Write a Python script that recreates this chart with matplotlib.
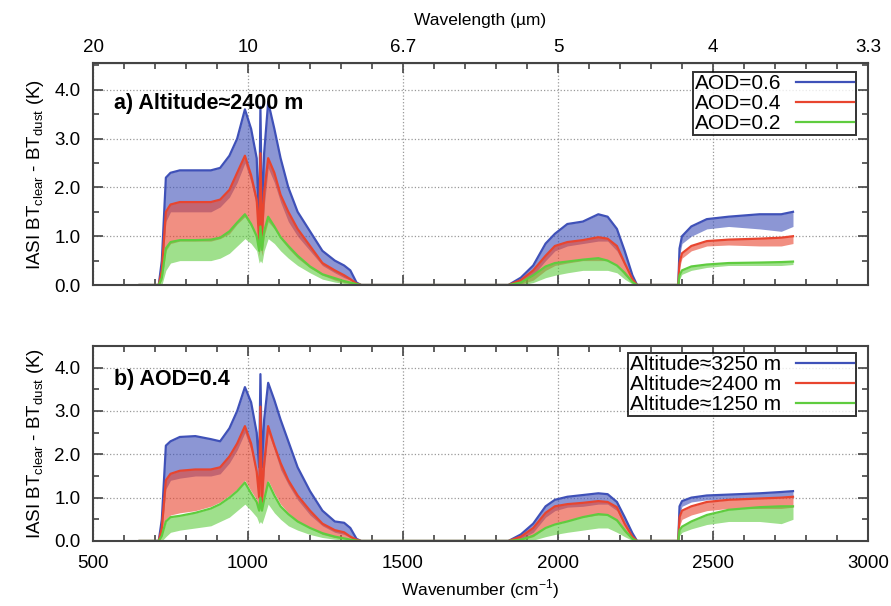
import matplotlib
matplotlib.use("Agg")
import matplotlib.pyplot as plt
from matplotlib.ticker import MultipleLocator, FixedLocator
import numpy as np

plt.rcParams['font.family'] = ['Liberation Sans', 'DejaVu Sans']

# wavenumber grid (cm-1) shared by all curves
wn = [650, 712, 722, 735, 750, 780, 830, 880, 910, 940,
      965, 990, 1010, 1028, 1036, 1040, 1045, 1052, 1065, 1085,
      1105, 1130, 1160, 1200, 1240, 1280, 1310, 1330, 1350, 1365,
      1840, 1880, 1920, 1960, 1990, 2030, 2080, 2130, 2160, 2190,
      2215, 2240, 2255, 2388, 2392, 2400, 2430, 2480, 2550, 2650,
      2720, 2758]

# panel a: altitude 2400 m, three AOD values (top of band / bottom of spikes)
aod06_top = [0, 0, 0.5, 2.2, 2.3, 2.35, 2.35, 2.35, 2.4, 2.65,
             3.0, 3.6, 3.2, 2.6, 1.2, 3.65, 1.3, 2.7, 3.75, 3.2,
             2.6, 2.0, 1.5, 1.1, 0.7, 0.5, 0.4, 0.3, 0.05, 0,
             0, 0.15, 0.4, 0.85, 1.05, 1.25, 1.3, 1.45, 1.4, 1.15,
             0.7, 0.2, 0, 0, 0.75, 1.0, 1.2, 1.35, 1.4, 1.45,
             1.45, 1.5]
aod06_low = [0, 0, 0.2, 1.3, 1.5, 1.5, 1.5, 1.5, 1.6, 1.8,
             2.1, 2.5, 2.1, 1.6, 0.9, 1.2, 0.9, 1.6, 2.4, 2.1,
             1.7, 1.3, 1.0, 0.7, 0.4, 0.25, 0.15, 0.1, 0, 0,
             0, 0.05, 0.2, 0.5, 0.7, 0.8, 0.85, 0.9, 0.9, 0.7,
             0.4, 0.1, 0, 0, 0.6, 0.85, 1.0, 1.15, 1.2, 1.15,
             1.1, 1.2]
aod04_top = [0, 0, 0.3, 1.5, 1.65, 1.7, 1.7, 1.7, 1.75, 1.95,
             2.3, 2.65, 2.25, 1.75, 0.9, 2.7, 0.95, 1.9, 2.6, 2.3,
             1.85, 1.5, 1.15, 0.8, 0.45, 0.3, 0.2, 0.12, 0.03, 0,
             0, 0.1, 0.3, 0.6, 0.8, 0.88, 0.92, 0.98, 0.95, 0.8,
             0.45, 0.12, 0, 0, 0.45, 0.65, 0.8, 0.9, 0.93, 0.95,
             0.97, 1.0]
aod04_low = [0, 0, 0.1, 0.7, 0.85, 0.9, 0.9, 0.9, 0.95, 1.05,
             1.25, 1.4, 1.2, 1.0, 0.6, 0.8, 0.6, 1.0, 1.3, 1.15,
             0.95, 0.75, 0.55, 0.35, 0.2, 0.1, 0.05, 0.03, 0, 0,
             0, 0.02, 0.1, 0.3, 0.4, 0.45, 0.5, 0.5, 0.5, 0.4,
             0.2, 0.05, 0, 0, 0.35, 0.55, 0.7, 0.8, 0.82, 0.8,
             0.8, 0.85]
aod02_top = [0, 0, 0.15, 0.75, 0.88, 0.92, 0.92, 0.93, 0.97, 1.1,
             1.28, 1.45, 1.25, 1.0, 0.7, 1.2, 0.72, 1.1, 1.4, 1.2,
             0.98, 0.8, 0.6, 0.38, 0.22, 0.14, 0.08, 0.05, 0.02, 0,
             0, 0.05, 0.2, 0.38, 0.45, 0.48, 0.52, 0.55, 0.5, 0.4,
             0.25, 0.06, 0, 0, 0.2, 0.3, 0.38, 0.42, 0.45, 0.46,
             0.47, 0.48]
aod02_low = [0, 0, 0, 0.3, 0.45, 0.5, 0.5, 0.5, 0.55, 0.65,
             0.8, 0.95, 0.85, 0.7, 0.45, 0.5, 0.45, 0.7, 0.95, 0.85,
             0.7, 0.55, 0.4, 0.25, 0.12, 0.06, 0.03, 0.02, 0, 0,
             0, 0, 0.05, 0.15, 0.2, 0.25, 0.3, 0.3, 0.3, 0.25,
             0.12, 0.02, 0, 0, 0.12, 0.22, 0.3, 0.36, 0.4, 0.4,
             0.4, 0.42]

# panel b: AOD 0.4, three altitudes
alt3250_top = [0, 0, 0.5, 2.2, 2.3, 2.4, 2.42, 2.35, 2.3, 2.6,
               3.0, 3.55, 3.2, 2.5, 1.7, 3.85, 1.7, 2.8, 3.65, 3.25,
               2.8, 2.3, 1.7, 1.15, 0.7, 0.45, 0.42, 0.3, 0.05, 0,
               0, 0.15, 0.4, 0.8, 0.95, 1.02, 1.06, 1.1, 1.08, 0.9,
               0.55, 0.18, 0, 0, 0.8, 0.92, 1.0, 1.05, 1.07, 1.1,
               1.13, 1.15]
alt3250_low = [0, 0, 0.2, 1.2, 1.4, 1.45, 1.5, 1.5, 1.55, 1.8,
               2.1, 2.5, 2.1, 1.5, 0.9, 1.5, 0.9, 1.6, 2.5, 2.1,
               1.65, 1.3, 0.95, 0.6, 0.35, 0.2, 0.15, 0.08, 0, 0,
               0, 0.05, 0.2, 0.55, 0.7, 0.78, 0.8, 0.85, 0.85, 0.7,
               0.35, 0.08, 0, 0, 0.6, 0.8, 0.9, 0.95, 0.97, 0.98,
               1.0, 1.0]
alt2400_top = [0, 0, 0.3, 1.4, 1.55, 1.62, 1.65, 1.65, 1.7, 1.95,
               2.25, 2.65, 2.25, 1.6, 1.0, 3.1, 0.9, 1.8, 2.65, 2.2,
               1.8, 1.4, 1.05, 0.7, 0.4, 0.25, 0.2, 0.1, 0.03, 0,
               0, 0.1, 0.3, 0.65, 0.8, 0.85, 0.88, 0.92, 0.9, 0.78,
               0.4, 0.1, 0, 0, 0.55, 0.7, 0.8, 0.9, 0.95, 0.98,
               1.0, 1.02]
alt2400_low = [0, 0, 0.1, 0.5, 0.6, 0.65, 0.7, 0.8, 0.9, 1.05,
               1.2, 1.4, 1.15, 0.95, 0.7, 0.8, 0.7, 0.95, 1.4, 1.1,
               0.85, 0.65, 0.45, 0.3, 0.15, 0.08, 0.05, 0.02, 0, 0,
               0, 0.02, 0.1, 0.3, 0.4, 0.45, 0.55, 0.6, 0.6, 0.45,
               0.2, 0.03, 0, 0, 0.35, 0.5, 0.6, 0.7, 0.75, 0.75,
               0.75, 0.78]
alt1250_top = [0, 0, 0.12, 0.45, 0.55, 0.58, 0.65, 0.75, 0.85, 1.0,
               1.15, 1.35, 1.1, 0.9, 0.7, 1.0, 0.7, 0.95, 1.35, 1.05,
               0.8, 0.62, 0.45, 0.3, 0.18, 0.1, 0.06, 0.03, 0.01, 0,
               0, 0.03, 0.12, 0.3, 0.38, 0.45, 0.55, 0.62, 0.6, 0.48,
               0.25, 0.05, 0, 0, 0.25, 0.33, 0.45, 0.6, 0.72, 0.78,
               0.8, 0.8]
alt1250_low = [0, 0, 0, 0.1, 0.2, 0.25, 0.3, 0.35, 0.45, 0.55,
               0.7, 0.85, 0.7, 0.55, 0.4, 0.45, 0.4, 0.55, 0.85, 0.65,
               0.5, 0.35, 0.25, 0.15, 0.08, 0.04, 0.02, 0.01, 0, 0,
               0, 0, 0.02, 0.1, 0.15, 0.2, 0.25, 0.3, 0.3, 0.2,
               0.1, 0.01, 0, 0, 0.12, 0.2, 0.28, 0.38, 0.45, 0.45,
               0.4, 0.5]

labels_a = ['AOD=0.6', 'AOD=0.4', 'AOD=0.2']
labels_b = ['Altitude\u22483250 m', 'Altitude\u22482400 m', 'Altitude\u22481250 m']
colors = ['#3f51b8', '#e8452f', '#5fcc3f']
wl_ticks = [500, 1000, 1500, 2000, 2500, 3000]
wl_labels = ['20', '10', '6.7', '5', '4', '3.3']

fig = plt.figure(figsize=(8.91, 6.06), dpi=100)
axa = fig.add_axes([0.1044, 0.5297, 0.8698, 0.3663])
axb = fig.add_axes([0.1044, 0.1073, 0.8698, 0.3218])


def draw_panel(ax, tops, lows, labels, ytop):
    for top, low, c, lab in zip(tops, lows, colors, labels):
        ax.fill_between(wn, low, top, color=c, alpha=0.6, lw=0)
        ax.plot(wn, top, color=c, lw=1.6, label=lab)
    ax.set_xlim(500, 3000)
    ax.set_ylim(0, ytop)
    ax.xaxis.set_major_locator(MultipleLocator(500))
    ax.xaxis.set_minor_locator(MultipleLocator(100))
    ax.yaxis.set_major_locator(FixedLocator([0, 1, 2, 3, 4]))
    ax.yaxis.set_minor_locator(MultipleLocator(0.5))
    ax.yaxis.set_major_formatter(plt.FormatStrFormatter('%.1f'))
    ax.tick_params(which='both', direction='in', top=True, right=True,
                   labelsize=13.5, width=1.2, color='#444444')
    ax.tick_params(which='major', length=7)
    ax.tick_params(which='minor', length=4)
    ax.tick_params(axis='x', pad=10)
    ax.tick_params(axis='y', pad=9)
    ax.grid(True, which='major', ls=':', color='#999999', lw=0.9)
    for s in ax.spines.values():
        s.set_linewidth(1.5)
        s.set_color('#444444')
    ax.set_ylabel('IASI BT$_{\\mathregular{clear}}$ - BT$_{\\mathregular{dust}}$ (K)',
                  fontsize=13.5, labelpad=6)
    ax.set_axisbelow(True)


draw_panel(axa, [aod06_top, aod04_top, aod02_top],
           [aod06_low, aod04_low, aod02_low], labels_a, 4.55)
draw_panel(axb, [alt3250_top, alt2400_top, alt1250_top],
           [alt3250_low, alt2400_low, alt1250_low], labels_b, 4.5)

axa.tick_params(labelbottom=False)
top = axa.secondary_xaxis('top')
top.set_ticks(wl_ticks)
top.set_xticklabels(wl_labels)
top.tick_params(direction='in', length=0, labelsize=13.5, pad=5)
top.set_xlabel('Wavelength (\u00b5m)', fontsize=12.5, labelpad=10)

axb.set_xlabel('Wavenumber (cm$^{\\mathregular{-1}}$)', fontsize=12.5, labelpad=4)

axa.text(0.027, 0.795, 'a) Altitude\u22482400 m', transform=axa.transAxes,
         fontsize=15.5, fontweight='bold')
axb.text(0.027, 0.80, 'b) AOD=0.4', transform=axb.transAxes,
         fontsize=15.5, fontweight='bold')

for ax, loc in ((axa, (0.985, 0.96)), (axb, (0.985, 0.965))):
    leg = ax.legend(loc='upper right', bbox_to_anchor=loc, markerfirst=False,
                    fontsize=15, frameon=True, fancybox=False,
                    handlelength=2.8, borderpad=0.1, labelspacing=0.05,
                    handletextpad=0.7, borderaxespad=0)
    leg.get_frame().set_edgecolor('black')
    leg.get_frame().set_linewidth(1.4)

fig.savefig('out.png', dpi=100)
